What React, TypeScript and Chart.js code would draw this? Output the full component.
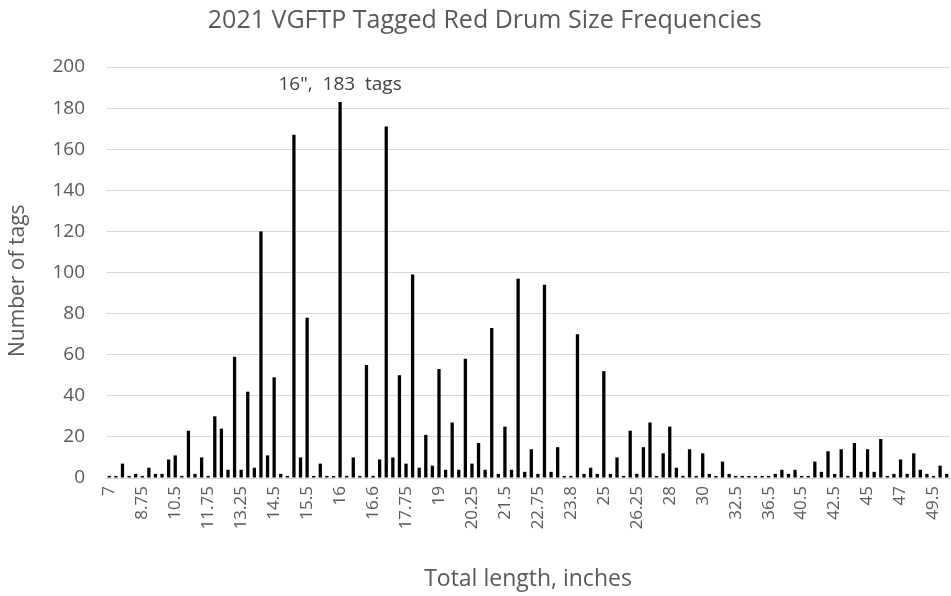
import React, { useEffect, useRef } from "react";
import { Chart, registerables } from "chart.js";

Chart.register(...registerables);

const tickLabels = [
  "7", "8.75", "10.5", "11.75", "13.25", "14.5", "15.5", "16", "16.6", "17.75",
  "19", "20.25", "21.5", "22.75", "23.8", "25", "26.25", "28", "30", "32.5",
  "36.5", "40.5", "42.5", "45", "47", "49.5",
];

const tagCounts = [
  1, 1, 7, 1, 2, 1, 5, 2, 2, 9,
  11, 1, 23, 2, 10, 1, 30, 24, 4, 59,
  4, 42, 5, 120, 11, 49, 2, 1, 167, 10,
  78, 1, 7, 1, 1, 183, 1, 10, 1, 55,
  1, 9, 171, 10, 50, 7, 99, 5, 21, 6,
  53, 4, 27, 4, 58, 7, 17, 4, 73, 2,
  25, 4, 97, 3, 14, 2, 94, 3, 15, 1,
  1, 70, 2, 5, 2, 52, 2, 10, 1, 23,
  2, 15, 27, 1, 12, 25, 5, 1, 14, 1,
  12, 2, 1, 8, 2, 1, 1, 1, 1, 1,
  1, 2, 4, 2, 4, 1, 1, 8, 3, 13,
  2, 14, 1, 17, 3, 14, 3, 19, 1, 2,
  9, 2, 12, 4, 2, 1, 6, 2,
];

const labelEvery = 5;
const annotatedIndex = 35;
const annotationText = "16\",  183  tags";

const TITLE = "2021 VGFTP Tagged Red Drum Size Frequencies";
const X_TITLE = "Total length, inches";
const Y_TITLE = "Number of tags";
const FONT = "'Open Sans', 'DejaVu Sans', sans-serif";
const TEXT = "#595959";

const annotationPlugin = {
  id: "peakLabel",
  afterDatasetsDraw(chart: any) {
    const meta = chart.getDatasetMeta(0);
    const el = meta.data[annotatedIndex];
    if (!el) return;
    const ctx = chart.ctx;
    ctx.save();
    ctx.font = `19px ${FONT}`;
    ctx.fillStyle = "#404040";
    ctx.textAlign = "center";
    ctx.textBaseline = "middle";
    ctx.fillText(annotationText, el.x, el.y - 17);
    ctx.restore();
  },
};

export default function App() {
  const ref = useRef<HTMLCanvasElement>(null);
  useEffect(() => {
    document.body.style.margin = "0";
    const labels = tagCounts.map((_, i) =>
      i % labelEvery === 0 ? tickLabels[i / labelEvery] ?? "" : ""
    );
    const chart = new Chart(ref.current!, {
      type: "bar",
      data: {
        labels,
        datasets: [
          {
            data: tagCounts,
            backgroundColor: "#000000",
            borderWidth: 0,
            categoryPercentage: 1,
            barPercentage: 0.5,
          },
        ],
      },
      options: {
        animation: false,
        responsive: false,
        devicePixelRatio: 1,
        layout: { padding: { left: 0, right: 1, top: 0, bottom: 0 } },
        plugins: {
          legend: { display: false },
          tooltip: { enabled: false },
          title: {
            display: true,
            text: "   " + TITLE,
            color: TEXT,
            font: { family: FONT, size: 25, weight: "normal" },
            padding: { top: 6, bottom: 31 },
          },
        },
        scales: {
          x: {
            grid: { display: false, drawTicks: false },
            border: { display: true, color: "#d9d9d9" },
            ticks: {
              autoSkip: false,
              minRotation: 90,
              maxRotation: 90,
              padding: 8,
              color: TEXT,
              font: { family: FONT, size: 17 },
            },
            title: {
              display: true,
              text: X_TITLE,
              color: TEXT,
              font: { family: FONT, size: 23 },
              padding: { top: 0, bottom: 3 },
            },
            afterFit(scale: any) {
              scale.height = 118;
              scale.paddingLeft = 0;
              scale.paddingRight = 0;
            },
          },
          y: {
            min: 0,
            max: 200,
            ticks: {
              stepSize: 20,
              padding: 21,
              color: TEXT,
              font: { family: FONT, size: 19 },
            },
            grid: { color: "#d9d9d9", drawTicks: false },
            border: { display: false },
            title: {
              display: true,
              text: Y_TITLE + "   ",
              color: TEXT,
              font: { family: FONT, size: 21 },
              padding: { top: 5, bottom: 0 },
            },
            afterFit(scale: any) {
              scale.width = 106;
              scale.paddingTop = 0;
              scale.paddingBottom = 0;
            },
          },
        },
      },
      plugins: [annotationPlugin],
    });
    return () => chart.destroy();
  }, []);
  return <canvas ref={ref} width={951} height={596} />;
}
